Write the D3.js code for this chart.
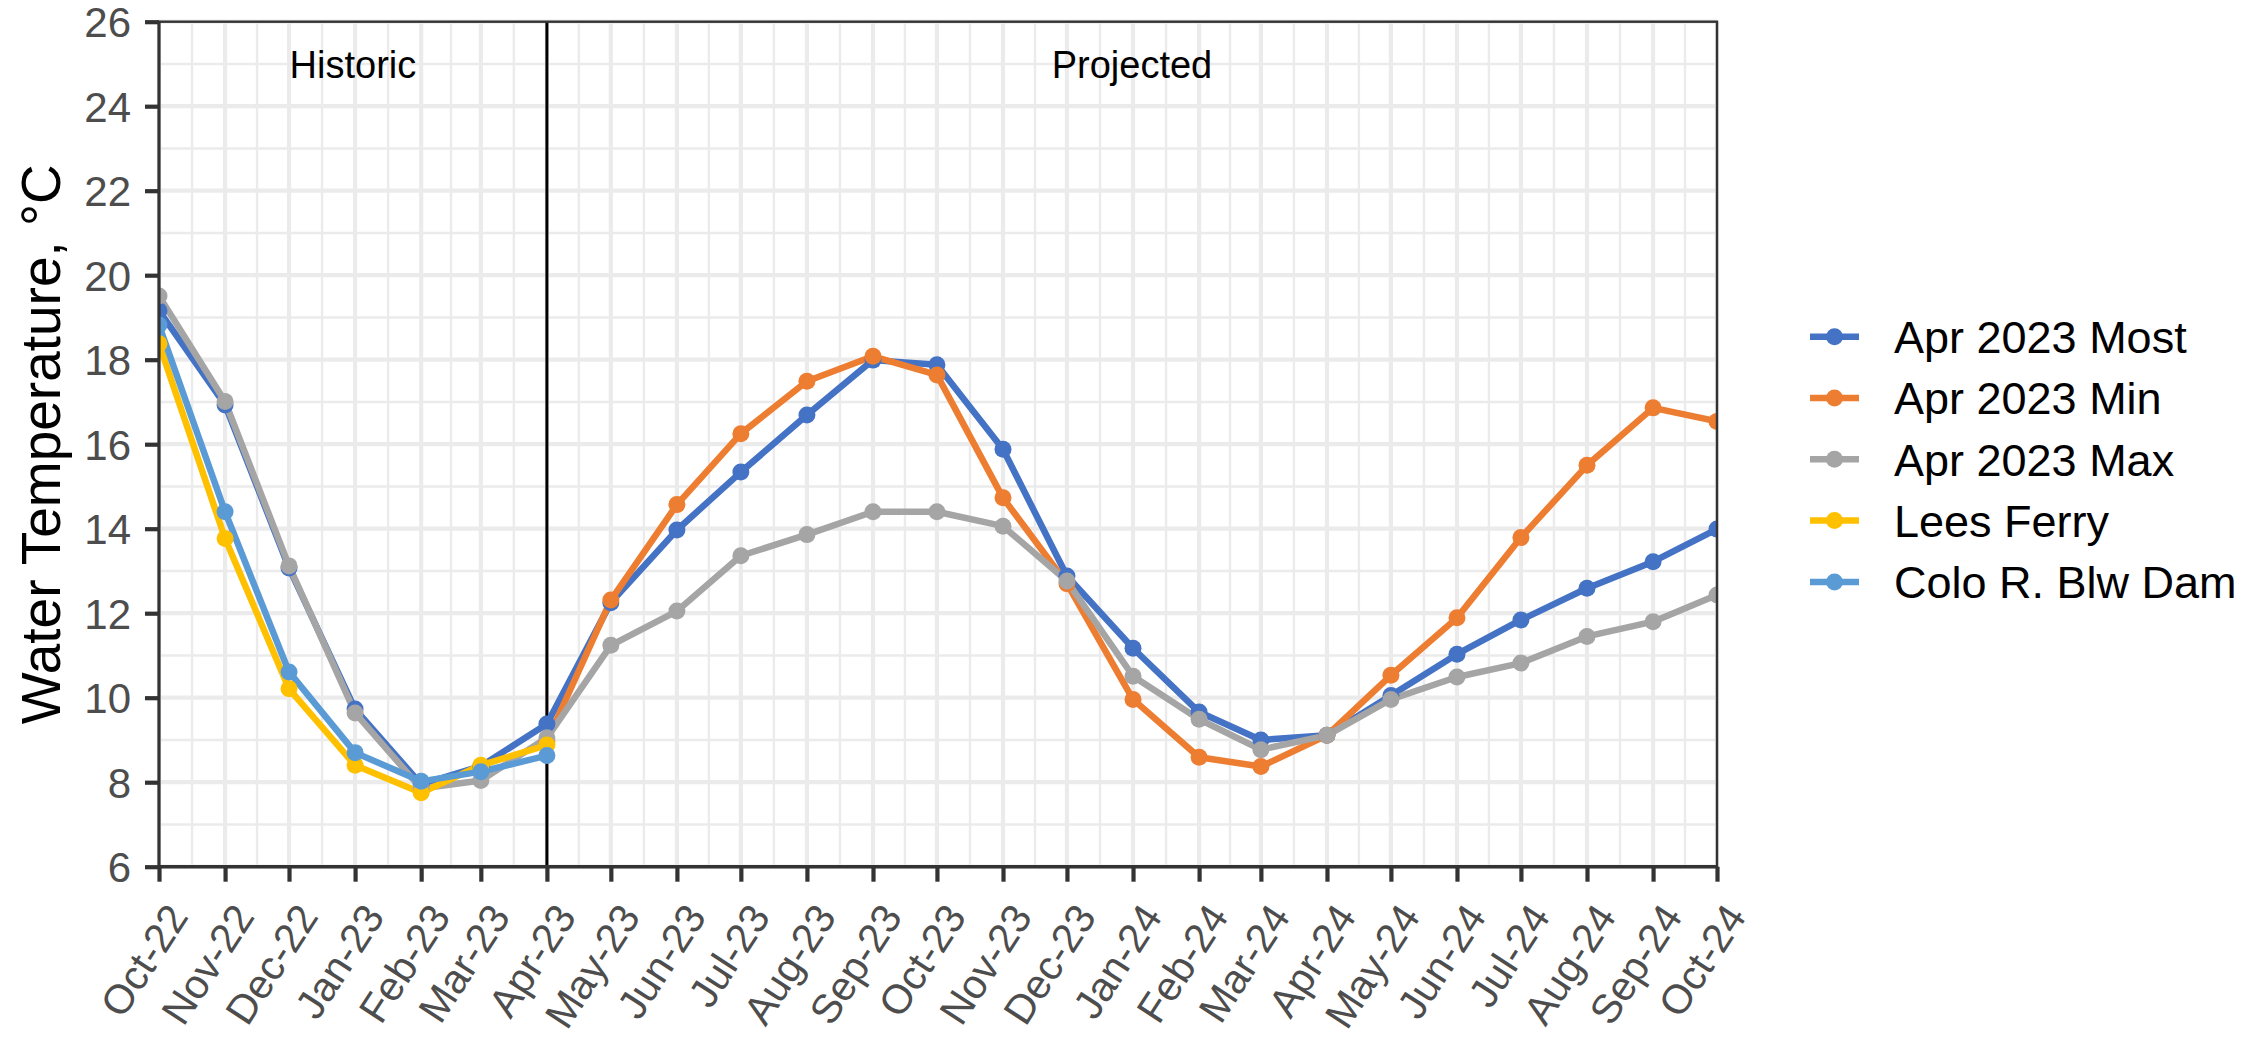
<!DOCTYPE html>
<html lang="en">
<head>
<meta charset="UTF-8">
<title>Water Temperature</title>
<script src="https://d3js.org/d3.v7.min.js"></script>
<style>
  body { margin: 0; background: #ffffff; }
  svg text { font-family: "Liberation Sans", Arial, sans-serif; }
</style>
</head>
<body>
<script>
// monthly values, Oct-22 .. Oct-24
const months = ["2022-10","2022-11","2022-12","2023-01","2023-02","2023-03","2023-04",
  "2023-05","2023-06","2023-07","2023-08","2023-09","2023-10","2023-11","2023-12",
  "2024-01","2024-02","2024-03","2024-04","2024-05","2024-06","2024-07","2024-08","2024-09","2024-10"];

const mostVals = [19.16, 16.93, 13.07, 9.73, 7.95, 8.38, 9.38, 12.25, 13.97, 15.34, 16.69, 17.99, 17.88,
  15.88, 12.88, 11.17, 9.66, 9.0, 9.11, 10.05, 11.03, 11.84, 12.59, 13.22, 13.99];
const minVals = [null, null, null, null, null, null, 8.97, 12.31, 14.57, 16.25, 17.49, 18.08, 17.64,
  14.73, 12.70, 9.96, 8.59, 8.37, 9.11, 10.53, 11.89, 13.79, 15.50, 16.86, 16.54];
const maxVals = [19.51, 17.01, 13.12, 9.64, 7.85, 8.04, 9.05, 11.24, 12.05, 13.36, 13.86, 14.40, 14.40,
  14.06, 12.76, 10.51, 9.49, 8.77, 9.11, 9.96, 10.49, 10.82, 11.45, 11.80, 12.43];
const leesVals = [18.38, 13.77, 10.21, 8.40, 7.75, 8.40, 8.88];
const coloVals = [18.82, 14.40, 10.61, 8.70, 8.02, 8.25, 8.63];

const seriesNames = ["Apr 2023 Most", "Apr 2023 Min", "Apr 2023 Max", "Lees Ferry", "Colo R. Blw Dam"];
const seriesColors = ["#4472C4", "#ED7D31", "#A5A5A5", "#FFC000", "#5B9BD5"];
const yTicks = [6, 8, 10, 12, 14, 16, 18, 20, 22, 24, 26];
const periodLabels = ["Historic", "Projected"];
const splitMonth = "2023-04";

const width = 2262, height = 1040;
const margin = { top: 21.7, right: 545, bottom: 173.3, left: 159 };
const plotW = width - margin.left - margin.right;
const plotH = height - margin.top - margin.bottom;

const parseMonth = d3.timeParse("%Y-%m");
const dates = months.map(parseMonth);

const series = [mostVals, minVals, maxVals, leesVals, coloVals].map((vals, i) => ({
  name: seriesNames[i],
  color: seriesColors[i],
  points: vals.map((v, j) => ({ date: dates[j], value: v })).filter(p => p.value != null)
}));

const svg = d3.select("body").append("svg")
  .attr("width", width)
  .attr("height", height);

const chart = svg.append("g")
  .attr("transform", `translate(${margin.left}, ${margin.top})`);

const x = d3.scaleTime()
  .domain(d3.extent(dates))
  .range([0, plotW]);

const y = d3.scaleLinear()
  .domain([6, 26])
  .range([plotH, 0]);

// grid: minor first, then major
const minorX = dates.slice(1).map((d, i) => new Date((+d + +dates[i]) / 2));
const minorY = yTicks.slice(1).map(v => v - 1);

chart.append("g").selectAll("line")
  .data(minorX)
  .join("line")
  .attr("x1", d => x(d)).attr("x2", d => x(d))
  .attr("y1", 0).attr("y2", plotH)
  .attr("stroke", "#ebebeb").attr("stroke-width", 2.4);

chart.append("g").selectAll("line")
  .data(minorY)
  .join("line")
  .attr("x1", 0).attr("x2", plotW)
  .attr("y1", d => y(d)).attr("y2", d => y(d))
  .attr("stroke", "#ebebeb").attr("stroke-width", 2.4);

chart.append("g").selectAll("line")
  .data(dates)
  .join("line")
  .attr("x1", d => x(d)).attr("x2", d => x(d))
  .attr("y1", 0).attr("y2", plotH)
  .attr("stroke", "#ebebeb").attr("stroke-width", 4.2);

chart.append("g").selectAll("line")
  .data(yTicks)
  .join("line")
  .attr("x1", 0).attr("x2", plotW)
  .attr("y1", d => y(d)).attr("y2", d => y(d))
  .attr("stroke", "#ebebeb").attr("stroke-width", 4.2);

// divider between historic and projected
const split = parseMonth(splitMonth);
chart.append("line")
  .attr("x1", x(split)).attr("x2", x(split))
  .attr("y1", 0).attr("y2", plotH)
  .attr("stroke", "#000").attr("stroke-width", 3);

// period labels
const periodX = [
  new Date((+dates[0] + +split) / 2),
  new Date((+split + +dates[dates.length - 1]) / 2)
];
chart.selectAll(".period")
  .data(periodLabels)
  .join("text")
  .attr("class", "period")
  .attr("x", (d, i) => x(periodX[i]))
  .attr("y", y(25))
  .attr("dy", "0.36em")
  .attr("text-anchor", "middle")
  .attr("font-size", 38)
  .attr("fill", "#000")
  .text(d => d);

// data, clipped to the panel
svg.append("clipPath").attr("id", "panel")
  .append("rect").attr("width", plotW).attr("height", plotH);

const dataG = chart.append("g").attr("clip-path", "url(#panel)");

const line = d3.line()
  .x(d => x(d.date))
  .y(d => y(d.value));

dataG.selectAll(".series-line")
  .data(series)
  .join("path")
  .attr("class", "series-line")
  .attr("d", d => line(d.points))
  .attr("fill", "none")
  .attr("stroke", d => d.color)
  .attr("stroke-width", 6.5)
  .attr("stroke-linejoin", "round");

series.forEach(s => {
  dataG.append("g").selectAll("circle")
    .data(s.points)
    .join("circle")
    .attr("cx", d => x(d.date))
    .attr("cy", d => y(d.value))
    .attr("r", 8.5)
    .attr("fill", s.color);
});

// panel border
chart.append("rect")
  .attr("width", plotW).attr("height", plotH)
  .attr("fill", "none")
  .attr("stroke", "#333333")
  .attr("stroke-width", 2.4);

// Y-axis
const yAxis = chart.append("g")
  .call(d3.axisLeft(y).tickValues(yTicks).tickSize(14).tickPadding(14));
yAxis.select(".domain").remove();
yAxis.selectAll(".tick line").attr("stroke", "#333333").attr("stroke-width", 4.2);
yAxis.selectAll(".tick text")
  .attr("font-size", 42)
  .attr("fill", "#4d4d4d")
  .attr("dy", "0.36em");
chart.append("line")
  .attr("x1", 0).attr("x2", 0).attr("y1", 0).attr("y2", plotH)
  .attr("stroke", "#333333").attr("stroke-width", 3);

// X-axis
const xAxis = chart.append("g")
  .attr("transform", `translate(0, ${plotH})`)
  .call(d3.axisBottom(x).tickValues(dates).tickSize(15).tickFormat(d3.timeFormat("%b-%y")));
xAxis.select(".domain").remove();
xAxis.selectAll(".tick line").attr("stroke", "#333333").attr("stroke-width", 4.2);
xAxis.selectAll(".tick text")
  .attr("font-size", 41)
  .attr("fill", "#4d4d4d")
  .attr("y", 0)
  .attr("dy", null)
  .attr("text-anchor", "end")
  .attr("transform", "translate(30, 50) rotate(-57)");
chart.append("line")
  .attr("x1", 0).attr("x2", plotW).attr("y1", plotH).attr("y2", plotH)
  .attr("stroke", "#333333").attr("stroke-width", 3.5);

// Y-axis title
svg.append("text")
  .attr("transform", `translate(60, ${margin.top + plotH / 2}) rotate(-90)`)
  .attr("text-anchor", "middle")
  .attr("font-size", 55)
  .attr("fill", "#000")
  .text("Water Temperature, °C");

// legend
const legend = svg.append("g")
  .attr("transform", "translate(1810, 336.7)");

const rows = legend.selectAll(".legend-row")
  .data(series)
  .join("g")
  .attr("class", "legend-row")
  .attr("transform", (d, i) => `translate(0, ${i * 61.3})`);

rows.append("line")
  .attr("x1", 0).attr("x2", 49)
  .attr("stroke", d => d.color)
  .attr("stroke-width", 6.5);

rows.append("circle")
  .attr("cx", 24.5)
  .attr("r", 8.5)
  .attr("fill", d => d.color);

rows.append("text")
  .attr("x", 84)
  .attr("dy", "0.36em")
  .attr("font-size", 45)
  .attr("fill", "#000")
  .text(d => d.name);
</script>
</body>
</html>
